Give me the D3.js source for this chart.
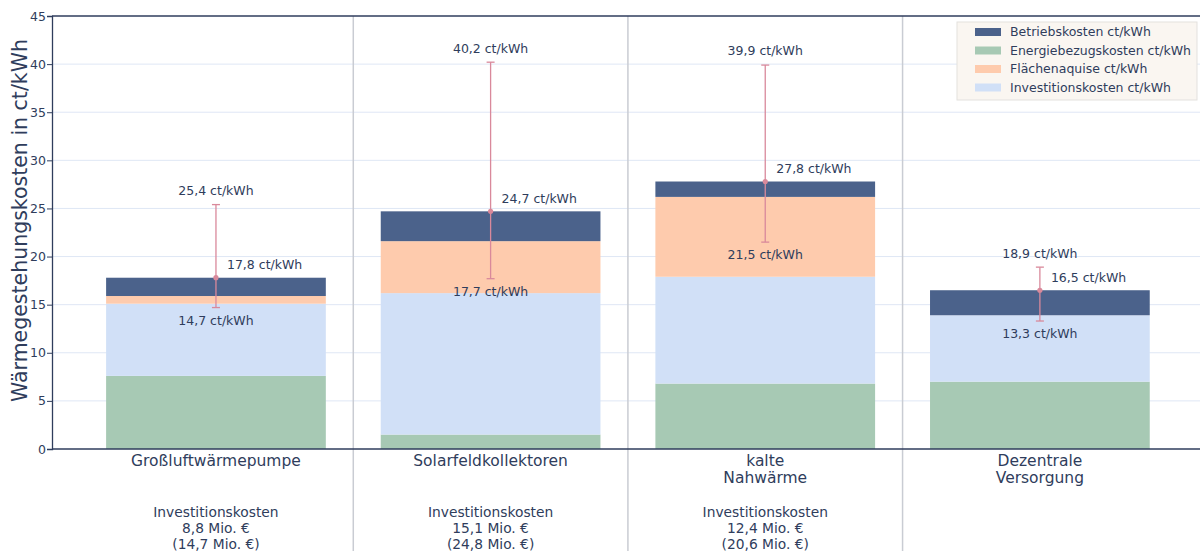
<!DOCTYPE html>
<html><head><meta charset="utf-8">
<script src="https://cdn.jsdelivr.net/npm/d3@7"></script>
<style>
body{margin:0;background:#fff;}
text{font-family:"DejaVu Sans",sans-serif;fill:#2f3d5c;}
</style></head>
<body><svg id="c" width="1200" height="551"></svg>
<script>
const categories = [["Großluftwärmepumpe"],["Solarfeldkollektoren"],["kalte","Nahwärme"],["Dezentrale","Versorgung"]];
const seriesNames = ["Energiebezugskosten ct/kWh","Investitionskosten ct/kWh","Flächenaquise ct/kWh","Betriebskosten ct/kWh"];
const energie = [7.6, 1.5, 6.8, 7.0];
const invest = [7.5, 14.7, 11.1, 6.9];
const flaeche = [0.8, 5.4, 8.3, 0];
const betrieb = [1.9, 3.1, 1.6, 2.6];
const totals = [17.8, 24.7, 27.8, 16.5];
const errLow = [14.7, 17.7, 21.5, 13.3];
const errHigh = [25.4, 40.2, 39.9, 18.9];
const invText = [["Investitionskosten","8,8 Mio. €","(14,7 Mio. €)"],["Investitionskosten","15,1 Mio. €","(24,8 Mio. €)"],["Investitionskosten","12,4 Mio. €","(20,6 Mio. €)"],[]];
const yTicks = [0,5,10,15,20,25,30,35,40,45];
const legendOrder = ["Betriebskosten ct/kWh","Energiebezugskosten ct/kWh","Flächenaquise ct/kWh","Investitionskosten ct/kWh"];
const colors = {"Betriebskosten ct/kWh":"#4b628b","Energiebezugskosten ct/kWh":"#a7c9b4","Flächenaquise ct/kWh":"#fecbad","Investitionskosten ct/kWh":"#d1e0f7"};

const fmt = v => d3.format(".1f")(v).replace(".",",") + " ct/kWh";
const svg = d3.select("#c");
const L=52,R=1200,T=16,B=449;
const x = d3.scaleLinear().domain([-0.597,3.583]).range([L,R]);
const y = d3.scaleLinear().domain([0,45]).range([B,T]);
const bw = x(0.8)-x(0);

// grid
svg.append("g").selectAll("line").data(yTicks.slice(1,-1)).join("line")
 .attr("x1",L).attr("x2",R).attr("y1",d=>y(d)).attr("y2",d=>y(d))
 .attr("stroke","#dfe7f5").attr("stroke-width",1);
// separators
svg.append("g").selectAll("line").data([0.5,1.5,2.5]).join("line")
 .attr("x1",d=>x(d)).attr("x2",d=>x(d)).attr("y1",T).attr("y2",551)
 .attr("stroke","#c9ccd3").attr("stroke-width",1.5);

// stacked data
const rows = categories.map((c,i)=>({i,
 "Energiebezugskosten ct/kWh":energie[i],"Investitionskosten ct/kWh":invest[i],
 "Flächenaquise ct/kWh":flaeche[i],"Betriebskosten ct/kWh":betrieb[i]}));
const stack = d3.stack().keys(seriesNames)(rows);
svg.append("g").selectAll("g").data(stack).join("g").attr("fill",s=>colors[s.key])
 .selectAll("rect").data(s=>s).join("rect")
 .attr("x",d=>x(d.data.i)-bw/2).attr("width",bw)
 .attr("y",d=>y(d[1])).attr("height",d=>y(d[0])-y(d[1]));

// axes
const yAxis = d3.axisLeft(y).tickValues(yTicks).tickSize(5).tickFormat(d=>d);
const ga = svg.append("g").attr("transform",`translate(${L},0)`).call(yAxis);
ga.select(".domain").attr("stroke","#2f3d5c").attr("stroke-width",1.3);
ga.selectAll(".tick line").attr("stroke","#2f3d5c");
ga.selectAll(".tick text").attr("font-size",12.5).attr("fill","#2f3d5c").attr("x",-6).style("font-family","'DejaVu Sans',sans-serif");
svg.append("line").attr("x1",L).attr("x2",R).attr("y1",B).attr("y2",B).attr("stroke","#2f3d5c").attr("stroke-width",1.3);
svg.append("line").attr("x1",L).attr("x2",R).attr("y1",T).attr("y2",T).attr("stroke","#2f3d5c").attr("stroke-width",1.3);

// y title
svg.append("text").attr("transform",`translate(27,${(T+B)/2-12}) rotate(-90)`)
 .attr("text-anchor","middle").attr("font-size",20.5).text("Wärmegestehungskosten in ct/kWh");

// error bars
const ec = "#d9899b";
const eg = svg.append("g");
categories.forEach((c,i)=>{
 const cx = x(i);
 eg.append("line").attr("x1",cx).attr("x2",cx).attr("y1",y(errLow[i])).attr("y2",y(errHigh[i])).attr("stroke",ec).attr("stroke-width",1.3);
 [errLow[i],errHigh[i]].forEach(v=>eg.append("line").attr("x1",cx-4).attr("x2",cx+4).attr("y1",y(v)).attr("y2",y(v)).attr("stroke",ec).attr("stroke-width",1.3));
 eg.append("circle").attr("cx",cx).attr("cy",y(totals[i])).attr("r",2.6).attr("fill",ec);
 eg.append("text").attr("x",cx).attr("y",y(errHigh[i])-14).attr("dy","0.35em").attr("text-anchor","middle").attr("font-size",12.5).text(fmt(errHigh[i]));
 eg.append("text").attr("x",cx+11).attr("y",y(totals[i])-13).attr("dy","0.35em").attr("font-size",12.5).text(fmt(totals[i]));
 eg.append("text").attr("x",cx).attr("y",y(errLow[i])+13).attr("dy","0.35em").attr("text-anchor","middle").attr("font-size",12.5).text(fmt(errLow[i]));
});

// category labels
const cg = svg.append("g");
categories.forEach((lines,i)=>{
 lines.forEach((t,j)=>cg.append("text").attr("x",x(i)).attr("y",466+j*17).attr("text-anchor","middle").attr("font-size",15.5).text(t));
 invText[i].forEach((t,j)=>cg.append("text").attr("x",x(i)).attr("y",517+j*16).attr("text-anchor","middle").attr("font-size",13.8).text(t));
});

// legend
const lg = svg.append("g").attr("transform","translate(957,22)");
lg.append("rect").attr("width",240).attr("height",78).attr("fill","#faf6f1").attr("stroke","#e3e1de").attr("stroke-width",1);
legendOrder.forEach((k,j)=>{
 const yy = 10+j*18.5;
 lg.append("rect").attr("x",18).attr("y",yy-4).attr("width",26).attr("height",8).attr("fill",colors[k]);
 lg.append("text").attr("x",53).attr("y",yy).attr("dy","0.35em").attr("font-size",12.5).text(k);
});
</script></body></html>
